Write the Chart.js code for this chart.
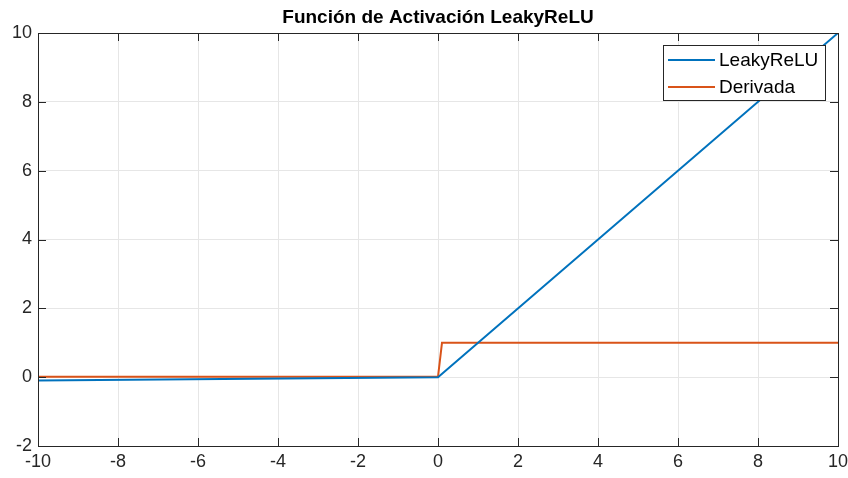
<!DOCTYPE html>
<html>
<head>
<meta charset="utf-8">
<script src="https://cdn.jsdelivr.net/npm/chart.js@4"></script>
<style>
  html, body { margin: 0; padding: 0; background: #fff; }
  #wrap { width: 848px; height: 478px; }
</style>
</head>
<body>
<div id="wrap"><canvas id="grafico" width="848" height="478"></canvas></div>
<script>
// datos
const seriesNames = ["LeakyReLU", "Derivada"];
const leakyX = [-10, 0, 10];
const leakyY = [-0.1, 0, 10];
const derivX = [-10, 0, 0.1, 10];
const derivY = [0.01, 0.01, 1, 1];
const xTicks = [-10, -8, -6, -4, -2, 0, 2, 4, 6, 8, 10];
const yTicks = [-2, 0, 2, 4, 6, 8, 10];

const colores = ["#0072BD", "#D95319"];
const fuente = "'Liberation Sans', Arial, Helvetica, sans-serif";

function puntos(xs, ys) {
    return xs.map((x, i) => ({ x: x, y: ys[i] }));
}

// caja, marcas interiores, titulo y leyenda al estilo MATLAB
const cajaPlugin = {
    id: "caja",
    afterDraw(chart) {
        const ctx = chart.ctx;
        const a = chart.chartArea;
        const sx = chart.scales.x, sy = chart.scales.y;
        ctx.save();
        ctx.strokeStyle = "#262626";
        ctx.lineWidth = 1;
        ctx.beginPath();
        xTicks.forEach(v => {
            const px = Math.round(sx.getPixelForValue(v)) + 0.5;
            ctx.moveTo(px, a.bottom); ctx.lineTo(px, a.bottom - 8);
            ctx.moveTo(px, a.top); ctx.lineTo(px, a.top + 8);
        });
        yTicks.forEach(v => {
            const py = Math.round(sy.getPixelForValue(v)) + 0.5;
            ctx.moveTo(a.left, py); ctx.lineTo(a.left + 8, py);
            ctx.moveTo(a.right, py); ctx.lineTo(a.right - 8, py);
        });
        ctx.stroke();
        ctx.strokeRect(Math.round(a.left) + 0.5, Math.round(a.top) + 0.5,
            Math.round(a.right - a.left), Math.round(a.bottom - a.top));

        // titulo
        ctx.fillStyle = "#000";
        ctx.font = "bold 19px " + fuente;
        ctx.textAlign = "center";
        ctx.textBaseline = "middle";
        ctx.fillText("Función de Activación LeakyReLU", (a.left + a.right) / 2, 18);

        // leyenda
        const lx = 663.5, ly = 45.5, lw = 162, lh = 55;
        ctx.fillStyle = "#fff";
        ctx.fillRect(lx, ly, lw, lh);
        ctx.strokeStyle = "#262626";
        ctx.strokeRect(lx, ly, lw, lh);
        ctx.font = "19px " + fuente;
        ctx.textAlign = "left";
        chart.data.datasets.forEach((ds, i) => {
            const yy = 60 + i * 27;
            ctx.strokeStyle = ds.borderColor;
            ctx.lineWidth = 2;
            ctx.beginPath();
            ctx.moveTo(668, yy); ctx.lineTo(715, yy);
            ctx.stroke();
            ctx.fillStyle = "#000";
            ctx.fillText(ds.label, 719, yy + 1);
        });
        ctx.restore();
    }
};

new Chart(document.getElementById("grafico"), {
    type: "scatter",
    data: {
        datasets: [
            {
                label: seriesNames[0],
                data: puntos(leakyX, leakyY),
                showLine: true,
                borderColor: colores[0],
                borderWidth: 2,
                pointRadius: 0,
                fill: false,
            },
            {
                label: seriesNames[1],
                data: puntos(derivX, derivY),
                showLine: true,
                borderColor: colores[1],
                borderWidth: 2,
                pointRadius: 0,
                fill: false,
            },
        ],
    },
    options: {
        responsive: false,
        animation: false,
        layout: { padding: { top: 33, right: 10, bottom: 0, left: 0 } },
        plugins: {
            legend: { display: false },
            title: { display: false },
            tooltip: { enabled: false },
        },
        scales: {
            x: {
                type: "linear",
                min: -10,
                max: 10,
                afterBuildTicks: s => { s.ticks = xTicks.map(v => ({ value: v })); },
                afterFit: s => { s.height = 32; s.paddingLeft = 0; s.paddingRight = 0; },
                grid: { color: "#e6e6e6", drawTicks: false },
                border: { display: false },
                ticks: {
                    color: "#262626",
                    font: { family: fuente, size: 18 },
                    padding: 5,
                    maxRotation: 0,
                },
            },
            y: {
                type: "linear",
                min: -2,
                max: 10,
                afterBuildTicks: s => { s.ticks = yTicks.map(v => ({ value: v })); },
                afterFit: s => { s.width = 38; s.paddingTop = 0; s.paddingBottom = 0; },
                grid: { color: "#e6e6e6", drawTicks: false },
                border: { display: false },
                ticks: {
                    color: "#262626",
                    font: { family: fuente, size: 18 },
                    padding: 6,
                },
            },
        },
    },
    plugins: [cajaPlugin],
});
</script>
</body>
</html>
